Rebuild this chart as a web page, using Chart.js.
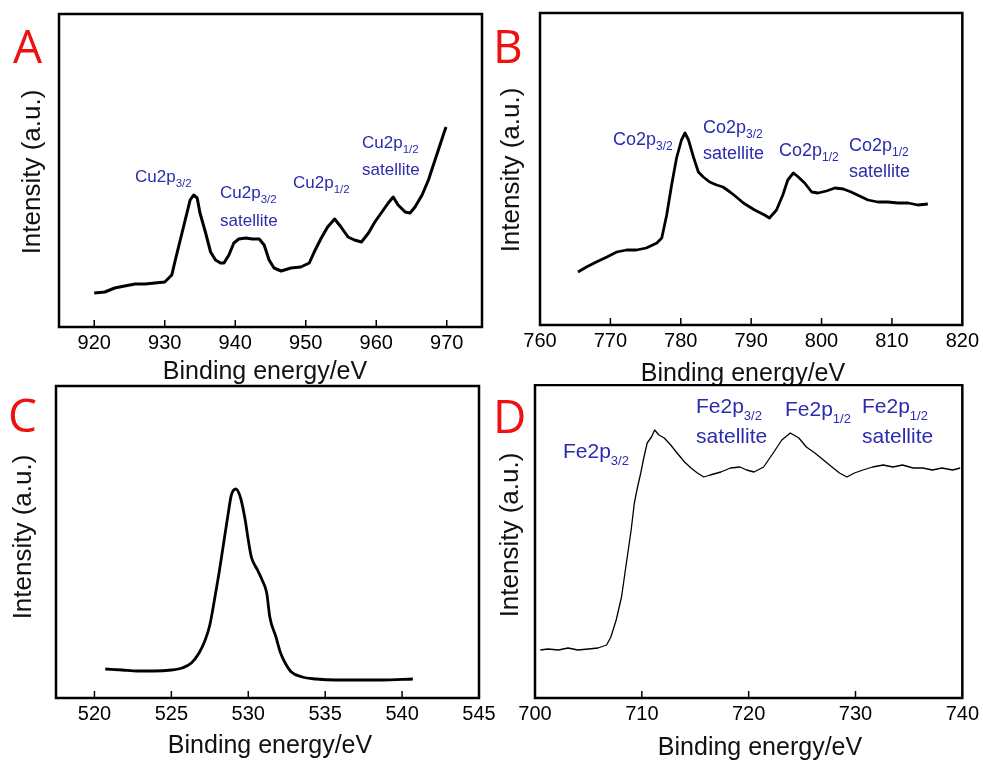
<!DOCTYPE html>
<html>
<head>
<meta charset="utf-8">
<script src="https://cdn.jsdelivr.net/npm/chart.js@4.4.1/dist/chart.umd.min.js"></script>
<style>
  html, body { margin: 0; padding: 0; background: #fff; }
  #wrap { position: relative; width: 983px; height: 760px; overflow: hidden; background: #fff; }
  canvas { position: absolute; }
</style>
</head>
<body>
<div id="wrap">
  <canvas id="chartA" width="490" height="384" style="left:0px;top:0px"></canvas>
  <canvas id="chartB" width="493" height="384" style="left:490px;top:0px"></canvas>
  <canvas id="chartC" width="500" height="376" style="left:0px;top:384px"></canvas>
  <canvas id="chartD" width="493" height="376" style="left:490px;top:384px"></canvas>
</div>
<script>
// A: Cu 2p
const energyA = [920.0, 921.5, 922.9, 924.3, 925.8, 927.2, 928.6, 930.0, 931.0, 931.5, 932.2, 932.9, 933.6, 934.1, 934.6, 935.0, 935.8, 936.5, 937.2, 937.9, 938.4, 939.1, 939.8, 940.5, 941.5, 942.4, 943.4, 944.1, 944.8, 945.5, 946.5, 947.9, 949.3, 950.5, 951.2, 952.2, 953.1, 954.1, 955.0, 956.0, 956.9, 957.9, 958.9, 959.8, 960.8, 961.7, 962.4, 963.1, 964.1, 964.8, 965.5, 966.5, 967.4, 968.1, 968.9, 969.6, 969.9];
const intensityA = [34, 35, 39, 41, 43, 43, 44, 45, 52, 67, 87, 107, 127, 132, 129, 114, 94, 75, 67, 64, 64, 72, 84, 88, 89, 88, 88, 82, 67, 59, 56, 59, 60, 64, 75, 89, 100, 108, 100, 90, 87, 85, 94, 105, 115, 124, 130, 122, 115, 114, 120, 132, 147, 162, 179, 194, 200];
const ticksA = [920, 930, 940, 950, 960, 970];

// B: Co 2p
const energyB = [765.4, 766.6, 768.0, 769.5, 770.9, 772.3, 773.7, 775.1, 776.6, 777.3, 778.0, 778.7, 779.4, 780.1, 780.6, 781.1, 781.8, 782.5, 783.2, 784.1, 785.1, 786.0, 787.0, 787.9, 788.9, 789.8, 790.5, 791.9, 792.6, 793.6, 794.5, 795.2, 796.0, 796.7, 797.6, 798.6, 799.5, 800.7, 801.9, 803.1, 804.2, 805.4, 806.6, 808.0, 809.4, 810.9, 812.3, 813.7, 815.1];
const intensityB = [53, 58, 63, 68, 73, 75, 75, 77, 82, 87, 110, 140, 167, 185, 192, 185, 168, 153, 148, 143, 140, 138, 133, 128, 122, 118, 115, 110, 107, 115, 130, 145, 152, 148, 142, 133, 132, 134, 137, 136, 133, 129, 125, 123, 123, 122, 122, 120, 121];
const ticksB = [760, 770, 780, 790, 800, 810, 820];

// C: O 1s
const energyC = [520.7, 521.8, 522.8, 523.9, 525.0, 525.7, 526.3, 526.8, 527.2, 527.5, 527.8, 528.1, 528.4, 528.7, 528.9, 529.2, 529.5, 529.8, 530.0, 530.2, 530.6, 530.9, 531.2, 531.4, 531.8, 532.1, 532.4, 532.8, 533.5, 534.4, 535.7, 537.2, 538.7, 540.7];
const intensityC = [29, 28, 27, 27, 28, 30, 35, 45, 58, 73, 98, 125, 155, 185, 203, 209, 200, 178, 158, 141, 128, 118, 105, 81, 61, 45, 35, 26, 21, 19, 18, 18, 18, 19];
const ticksC = [520, 525, 530, 535, 540, 545];

// D: Fe 2p
const energyD = [700.5, 701.2, 702.2, 703.1, 704.0, 705.0, 705.9, 706.7, 707.1, 707.6, 708.1, 708.5, 709.0, 709.3, 709.6, 709.9, 710.2, 710.5, 710.9, 711.2, 711.6, 712.1, 712.7, 713.3, 714.0, 714.6, 715.2, 715.8, 716.4, 717.4, 718.3, 719.2, 719.8, 720.5, 721.4, 722.3, 723.1, 723.9, 724.7, 725.4, 726.2, 727.0, 727.8, 728.5, 729.2, 729.9, 730.7, 731.6, 732.6, 733.5, 734.4, 735.4, 736.3, 737.2, 738.1, 739.1, 739.8];
const intensityD = [48, 49, 48, 50, 48, 49, 50, 53, 61, 78, 101, 131, 168, 195, 211, 225, 241, 255, 261, 268, 263, 260, 253, 245, 236, 230, 225, 221, 223, 226, 230, 231, 228, 226, 231, 245, 258, 265, 260, 251, 245, 238, 231, 225, 221, 225, 228, 231, 233, 231, 233, 230, 230, 228, 230, 228, 230];
const ticksD = [700, 710, 720, 730, 740];

const FONT = '"Liberation Sans", Arial, sans-serif';
const BLUE = '#2b2bad';

// frame, inward ticks and all the panel text
const panelDecor = {
  id: 'panelDecor',
  afterDatasetsDraw(chart, args, opts) {
    const ctx = chart.ctx;
    const area = chart.chartArea;
    const xs = chart.scales.x;
    ctx.save();
    ctx.strokeStyle = '#000';
    ctx.lineWidth = 2.5;
    ctx.strokeRect(area.left, area.top, area.right - area.left, area.bottom - area.top);
    ctx.lineWidth = 1.5;
    xs.ticks.forEach(t => {
      const px = xs.getPixelForValue(t.value);
      ctx.beginPath();
      ctx.moveTo(px, area.bottom);
      ctx.lineTo(px, area.bottom - 7);
      ctx.stroke();
    });

    // panel letter
    ctx.fillStyle = '#ee1111';
    ctx.font = '46px "Open Sans", sans-serif';
    ctx.textAlign = 'left';
    ctx.textBaseline = 'alphabetic';
    ctx.fillText(opts.letter.text, opts.letter.x, opts.letter.y);

    // axis titles
    ctx.fillStyle = '#111';
    ctx.font = '25px ' + FONT;
    ctx.textAlign = 'center';
    ctx.fillText('Binding energy/eV', opts.xTitle.x, opts.xTitle.y);
    ctx.save();
    ctx.translate(opts.yTitle.x, opts.yTitle.y);
    ctx.rotate(-Math.PI / 2);
    ctx.font = '26px ' + FONT;
    ctx.fillText('Intensity (a.u.)', 0, 0);
    ctx.restore();

    // peak labels
    ctx.textAlign = 'left';
    ctx.fillStyle = BLUE;
    (opts.labels || []).forEach(l => {
      ctx.font = l.size + 'px ' + FONT;
      ctx.fillText(l.main, l.x, l.y);
      if (l.sub) {
        const w = ctx.measureText(l.main).width;
        ctx.font = l.subSize + 'px ' + FONT;
        ctx.fillText(l.sub, l.x + w, l.y + l.drop);
      }
    });
    ctx.restore();
  }
};

function makePanel(id, cfg) {
  const canvas = document.getElementById(id);
  const W = canvas.width, H = canvas.height;
  const box = cfg.box;
  return new Chart(canvas, {
    type: 'line',
    data: {
      datasets: [{
        data: cfg.x.map((v, i) => ({ x: v, y: cfg.y[i] })),
        borderColor: '#000',
        borderWidth: cfg.lineWidth,
        borderJoinStyle: 'round',
        pointRadius: 0,
        fill: false,
        cubicInterpolationMode: cfg.smooth ? 'monotone' : 'default',
        tension: 0
      }]
    },
    options: {
      responsive: false,
      animation: false,
      devicePixelRatio: 1,
      layout: { padding: { left: 0, top: box.top, right: W - box.right, bottom: 0 } },
      plugins: {
        legend: { display: false },
        tooltip: { enabled: false },
        panelDecor: cfg.text
      },
      scales: {
        x: {
          type: 'linear',
          min: cfg.min,
          max: cfg.max,
          afterBuildTicks: s => { s.ticks = cfg.ticks.map(v => ({ value: v })); },
          afterFit: s => { s.height = H - box.bottom; },
          grid: { display: false, drawTicks: false },
          border: { display: false },
          ticks: {
            padding: 4,
            autoSkip: false,
            maxRotation: 0,
            color: '#000',
            font: { family: FONT, size: 20 }
          }
        },
        y: {
          min: 0,
          max: box.bottom - box.top,
          afterFit: s => { s.width = box.left; },
          ticks: { display: false },
          grid: { display: false, drawTicks: false },
          border: { display: false }
        }
      }
    },
    plugins: [panelDecor]
  });
}

makePanel('chartA', {
  x: energyA, y: intensityA, ticks: ticksA, min: 915, max: 975, lineWidth: 3,
  box: { left: 59, top: 14, right: 482, bottom: 327 },
  text: {
    letter: { text: 'A', x: 13, y: 63 },
    xTitle: { x: 265, y: 379 },
    yTitle: { x: 40, y: 172 },
    labels: [
      { main: 'Cu2p', sub: '3/2', x: 135, y: 182, size: 17, subSize: 11.5, drop: 5 },
      { main: 'Cu2p', sub: '3/2', x: 220, y: 198, size: 17, subSize: 11.5, drop: 5 },
      { main: 'satellite', x: 220, y: 226, size: 17 },
      { main: 'Cu2p', sub: '1/2', x: 293, y: 188, size: 17, subSize: 11.5, drop: 5 },
      { main: 'Cu2p', sub: '1/2', x: 362, y: 148, size: 17, subSize: 11.5, drop: 5 },
      { main: 'satellite', x: 362, y: 175, size: 17 }
    ]
  }
});

makePanel('chartB', {
  x: energyB, y: intensityB, ticks: ticksB, min: 760, max: 820, lineWidth: 2.8,
  box: { left: 50, top: 13, right: 473, bottom: 325 },
  text: {
    letter: { text: 'B', x: 3, y: 63 },
    xTitle: { x: 253, y: 381 },
    yTitle: { x: 29, y: 170 },
    labels: [
      { main: 'Co2p', sub: '3/2', x: 123, y: 145, size: 18, subSize: 12, drop: 5 },
      { main: 'Co2p', sub: '3/2', x: 213, y: 133, size: 18, subSize: 12, drop: 5 },
      { main: 'satellite', x: 213, y: 159, size: 18 },
      { main: 'Co2p', sub: '1/2', x: 289, y: 156, size: 18, subSize: 12, drop: 5 },
      { main: 'Co2p', sub: '1/2', x: 359, y: 151, size: 18, subSize: 12, drop: 5 },
      { main: 'satellite', x: 359, y: 177, size: 18 }
    ]
  }
});

makePanel('chartC', {
  x: energyC, y: intensityC, ticks: ticksC, min: 517.5, max: 545, lineWidth: 2.8, smooth: true,
  box: { left: 56, top: 2, right: 479, bottom: 314 },
  text: {
    letter: { text: 'C', x: 8, y: 48 },
    xTitle: { x: 270, y: 369 },
    yTitle: { x: 31, y: 153 },
    labels: []
  }
});

makePanel('chartD', {
  x: energyD, y: intensityD, ticks: ticksD, min: 700, max: 740, lineWidth: 1.3,
  box: { left: 45, top: 1, right: 475, bottom: 314 },
  text: {
    letter: { text: 'D', x: 3, y: 49 },
    xTitle: { x: 270, y: 371 },
    yTitle: { x: 28, y: 151 },
    labels: [
      { main: 'Fe2p', sub: '3/2', x: 73, y: 74, size: 21, subSize: 13, drop: 7 },
      { main: 'Fe2p', sub: '3/2', x: 206, y: 29, size: 21, subSize: 13, drop: 7 },
      { main: 'satellite', x: 206, y: 59, size: 21 },
      { main: 'Fe2p', sub: '1/2', x: 295, y: 32, size: 21, subSize: 13, drop: 7 },
      { main: 'Fe2p', sub: '1/2', x: 372, y: 29, size: 21, subSize: 13, drop: 7 },
      { main: 'satellite', x: 372, y: 59, size: 21 }
    ]
  }
});
</script>
</body>
</html>
